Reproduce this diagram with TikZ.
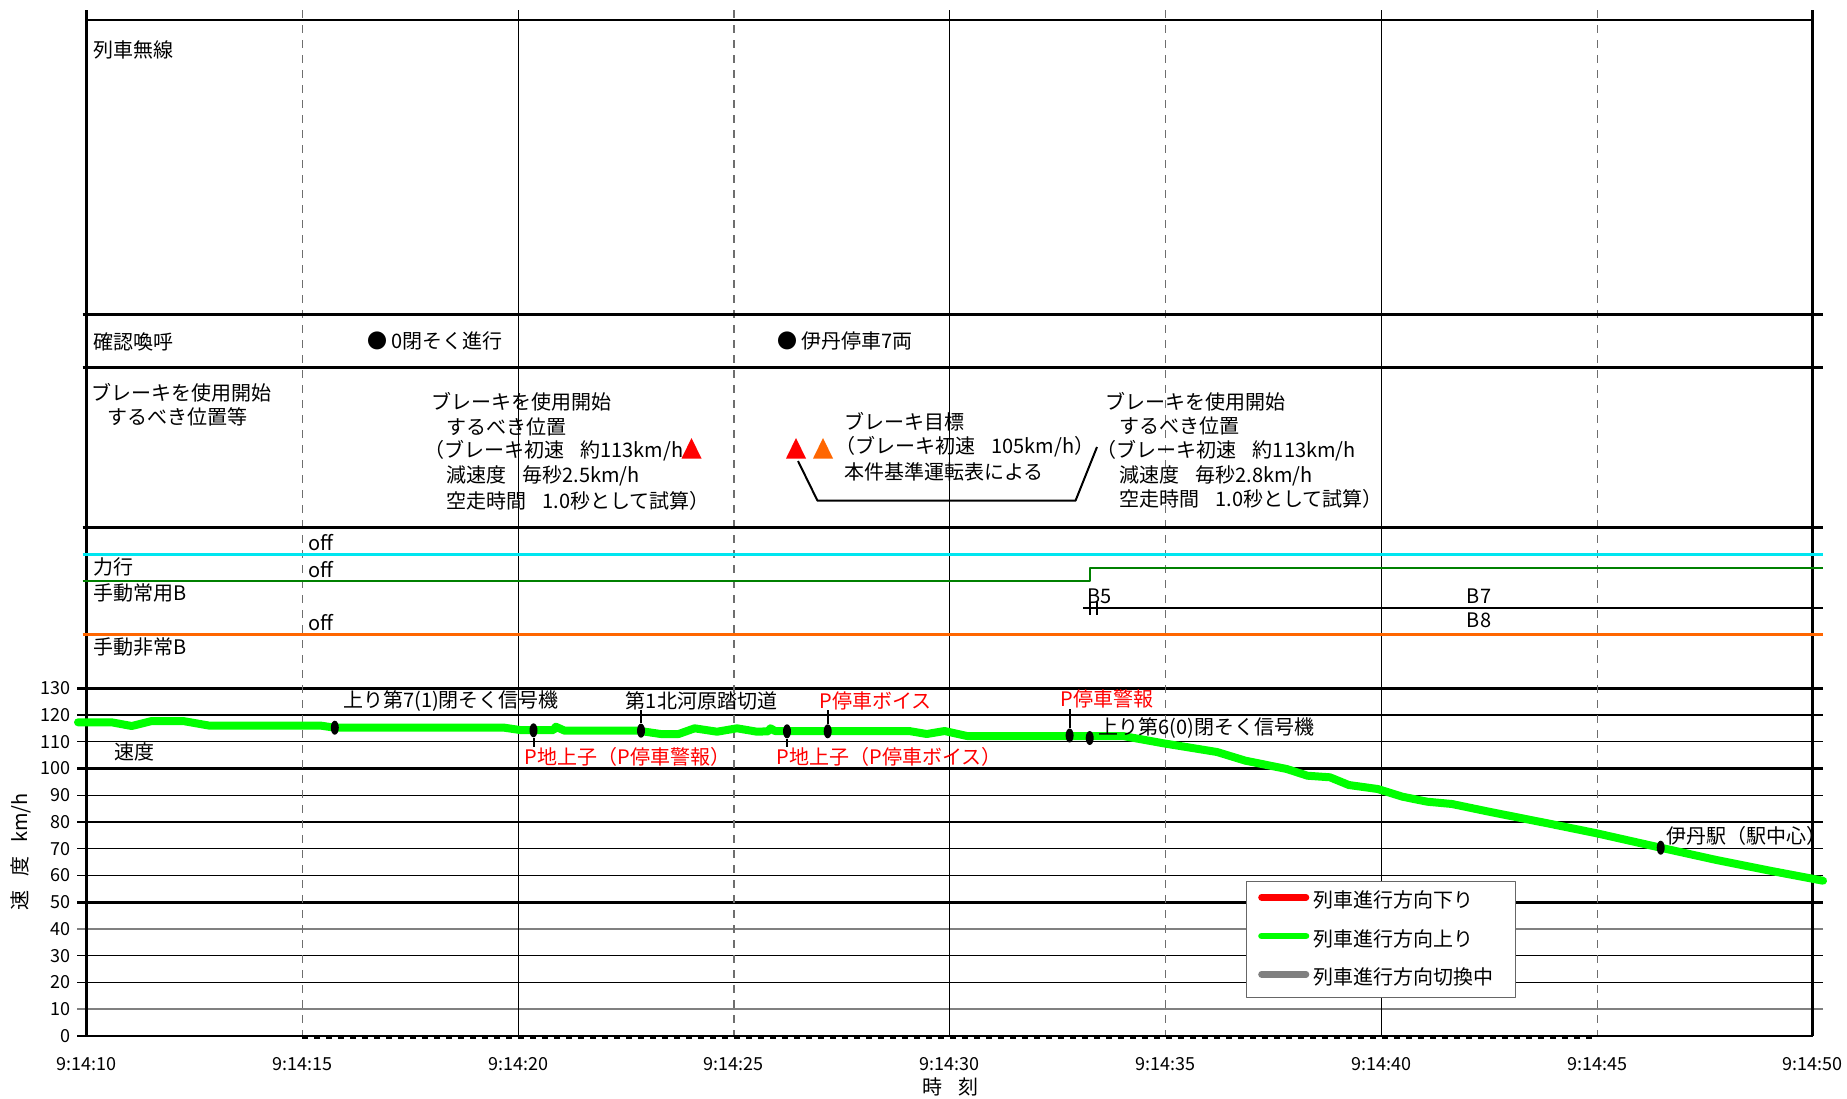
\documentclass[tikz,border=0pt]{standalone}
\usepackage{fontspec}
\setmainfont{Noto Sans CJK JP}
\usetikzlibrary{shapes.geometric}
\definecolor{spdgreen}{RGB}{0,255,0}
\definecolor{cyanline}{RGB}{0,230,240}
\definecolor{dkgreen}{RGB}{0,128,0}
\definecolor{orangeline}{RGB}{255,102,0}
\definecolor{gridgray}{RGB}{110,110,110}
\definecolor{trired}{RGB}{255,0,0}
\definecolor{triorange}{RGB}{255,102,0}
\newcommand{\zsp}{\hspace{8pt}}
\begin{document}
\begin{tikzpicture}[x=0.5pt,y=-0.5pt,line join=round,
  lbl/.style={anchor=west,inner sep=0pt,font=\fontsize{10pt}{12pt}\selectfont},
  redlbl/.style={lbl,text=red},
  num/.style={inner sep=0pt,font=\fontsize{9pt}{11pt}\selectfont},
  thickln/.style={line width=1.3pt},
  thinln/.style={line width=0.6pt},
  grayln/.style={line width=0.9pt,gray},
  dashln/.style={line width=0.6pt,gridgray,dash pattern=on 4pt off 3.5pt},
  mk/.style={ellipse,fill=black,inner sep=0pt,minimum width=4pt,minimum height=7pt},
  conn/.style={line width=1pt},
  sigline/.style={line width=1.1pt}]
\useasboundingbox (0,0) rectangle (1847,1098);

% ---------- speed grid ----------
\foreach \v in {130,100,50} \draw[thickln] (77,{1036-2.675*\v}) -- (1823,{1036-2.675*\v});
\foreach \v in {120,110,90,80,70,60,30,20} \draw[thinln] (77,{1036-2.675*\v}) -- (1823,{1036-2.675*\v});
\foreach \v in {40,10} \draw[grayln] (77,{1036-2.675*\v}) -- (1823,{1036-2.675*\v});
\foreach \v in {0,10,...,130} \node[num,anchor=east] (yl\v) at (70.5,{1036-2.675*\v}) {\v};

% ---------- vertical grid ----------
\foreach \t in {20,30,40} \draw[thinln] ({86.5+43.16*(\t-10)},10) -- ({86.5+43.16*(\t-10)},1036);
\foreach \t in {15,25,35,45} \draw[dashln] ({86.5+43.16*(\t-10)},10) -- ({86.5+43.16*(\t-10)},1036);
\foreach \t/\lab in {10/9:14:10,15/9:14:15,20/9:14:20,25/9:14:25,30/9:14:30,35/9:14:35,40/9:14:40,45/9:14:45,50/9:14:50}
  \node[num] (tl\t) at ({86.5+43.16*(\t-10)},1064) {\lab};

% ---------- frame and section lines ----------
\draw[thickln] (86.5,10) -- (86.5,1036);
\draw[thickln] (1812.5,10) -- (1812.5,1036);
\draw[thickln] (86.5,20) -- (1812.5,20);
\foreach \yy in {314.5,367.5,527.7} \draw[thickln] (82.6,\yy) -- (1823,\yy);
\draw[thickln] (77,1036) -- (1812.5,1036);
\draw[line width=1pt,dash pattern=on 3pt off 3pt] (302.3,1038) -- (1597,1038);

% ---------- signal lines ----------
\draw[cyanline,sigline] (82.6,554.5) -- (1823,554.5);
\draw[dkgreen,sigline] (82.6,581) -- (1089.7,581) -- (1089.7,567.7) -- (1823,567.7);
\draw[line width=1.2pt] (1083,607.7) -- (1823,607.7);
\draw[line width=1pt] (1089.7,602) -- (1089.7,615) (1097,602) -- (1097,615);
\draw[orangeline,sigline] (82.6,634.5) -- (1823,634.5);

% ---------- left labels ----------
\node[lbl] (h1) at (93,50) {列車無線};
\node[lbl] (h2) at (93,341.7) {確認喚呼};
\node[lbl] (h3a) at (91.5,393) {ブレーキを使用開始};
\node[lbl] (h3b) at (107,417) {するべき位置等};
\node[lbl] (h4) at (93,566.7) {力行};
\node[lbl] (h5) at (93,593) {手動常用B};
\node[lbl] (h6) at (93,646.7) {手動非常B};
\node[lbl] (off1) at (308,542.7) {off};
\node[lbl] (off2) at (308,569.3) {off};
\node[lbl] (off3) at (308,622.7) {off};
\node[lbl] (b5) at (1086.6,596) {B5};
\node[lbl] (b7) at (1466.5,596) {B7};
\node[lbl] (b8) at (1466.5,620) {B8};

% ---------- call-outs ----------
\node[lbl] (c1) at (367,341) {● 0閉そく進行};
\node[lbl] (c2) at (777,340.5) {● 伊丹停車7両};

% ---------- brake blocks ----------
\node[lbl] (a1) at (431,402) {ブレーキを使用開始};
\node[lbl] (a2) at (446,426.5) {するべき位置};
\node[lbl] (a3) at (424,451.2) {（ブレーキ初速\zsp 約113km/h};
\node[lbl] (a4) at (446,476) {減速度\zsp 毎秒2.5km/h};
\node[lbl] (a5) at (446,500.5) {空走時間\zsp 1.0秒として試算）};

\node[lbl] (d1) at (844,421.7) {ブレーキ目標};
\node[lbl] (d2) at (835,447) {（ブレーキ初速\zsp 105km/h）};
\node[lbl] (d3) at (844,471.7) {本件基準運転表による};

\node[lbl] (e1) at (1105,401.7) {ブレーキを使用開始};
\node[lbl] (e2) at (1119,425.7) {するべき位置};
\node[lbl] (e3) at (1096.5,450.7) {（ブレーキ初速\zsp 約113km/h};
\node[lbl] (e4) at (1119,475.7) {減速度\zsp 毎秒2.8km/h};
\node[lbl] (e5) at (1119,499.3) {空走時間\zsp 1.0秒として試算）};

\fill[trired] (681.5,458.5) -- (701.5,458.5) -- (691.5,438) -- cycle;
\fill[trired] (786,458.5) -- (806,458.5) -- (796,438) -- cycle;
\fill[triorange] (813,458.5) -- (833,458.5) -- (823,438) -- cycle;
\coordinate (br1) at (798,461);
\coordinate (br2) at (1097,447);
\draw[line width=1pt] (br1) -- (817.5,500.7) -- (1075.5,500.7) -- (br2);

% ---------- speed curve ----------
\draw[spdgreen,line width=4pt,line cap=round]
 (78,722.3) -- (111.6,722.3) -- (131.7,726) -- (151.8,721) -- (183,721) -- (209.8,725.7)
 -- (321.4,725.7) -- (334.8,727.7) -- (504.5,727.7) -- (520,730) -- (553.6,730)
 -- (555.8,726.7) -- (564.7,730.7) -- (638.4,730.7) -- (660.7,734) -- (678.6,734)
 -- (694.6,728.3) -- (717,731.7) -- (737,728.3) -- (757,731.7) -- (768,731.3)
 -- (770.5,728.3) -- (775,731) -- (909,731) -- (926.8,734) -- (944.6,731) -- (967,736)
 -- (1123,736) -- (1163.4,743.3) -- (1217,752) -- (1245.5,760.7) -- (1286.8,769)
 -- (1307.4,775.7) -- (1330,777.3) -- (1348.8,785) -- (1377.7,789) -- (1402.5,796.7)
 -- (1427.3,801.7) -- (1452,804) -- (1489,811.7) -- (1551,824) -- (1596.7,833.3)
 -- (1660.7,847.7) -- (1716.5,860) -- (1770,870.7) -- (1823,880.7);
\node[lbl] (spd) at (114,751.7) {速度};

% ---------- markers ----------
\node[mk] (m1) at (334.8,727.7) {};
\node[mk] (m2) at (533.5,730.3) {};
\node[mk] (m3) at (641,730.7) {};
\node[mk] (m4) at (787,731.3) {};
\node[mk] (m5) at (827.7,731.3) {};
\node[mk] (m6) at (1069.6,735.5) {};
\node[mk] (m7) at (1089.7,738) {};
\node[mk] (m8) at (1660.7,847.7) {};

\node[lbl] (l1) at (342.8,700.7) {上り第7(1)閉そく信号機};
\node[redlbl] (l2) at (524.5,756.7) {P地上子（P停車警報）};
\node[lbl] (l3) at (625.5,700.7) {第1北河原踏切道};
\node[redlbl] (l4) at (776.5,757) {P地上子（P停車ボイス）};
\node[redlbl] (l5) at (819,700.7) {P停車ボイス};
\node[redlbl] (l6) at (1060.5,699.3) {P停車警報};
\node[lbl] (l7) at (1098,728.3) {上り第6(0)閉そく信号機};
\node[lbl] (l8) at (1666,835.5) {伊丹駅（駅中心）};

\draw[conn] (m2.south) -- (m2.south |- l2.north);
\draw[conn] (m3.north) -- (m3.north |- l3.south);
\draw[conn] (m4.south) -- (m4.south |- l4.north);
\draw[conn] (m5.north) -- (m5.north |- l5.south);
\draw[conn] (m6.north) -- (m6.north |- l6.south);

% ---------- axis titles ----------
\node[lbl,anchor=center,rotate=90] (ytitle) at (21,852) {速\hspace{7pt}度\hspace{7pt}km/h};
\node[lbl,anchor=center] (xtitle) at (950.5,1087) {時\hspace{8pt}刻};

% ---------- legend ----------
\node[draw=gray!80!black,fill=white,line width=0.7pt,minimum width=134.5pt,minimum height=58pt,inner sep=0pt,anchor=north west] (legend) at (1246,881) {};
\draw[red,line width=3.3pt,line cap=round] (1261.5,897.3) -- (1306,897.3);
\draw[spdgreen,line width=3.3pt,line cap=round] (1261.5,936) -- (1306,936);
\draw[gray,line width=3.3pt,line cap=round] (1261.5,974.3) -- (1306,974.3);
\node[lbl] (lg1) at (1313.5,900) {列車進行方向下り};
\node[lbl] (lg2) at (1313.5,939.3) {列車進行方向上り};
\node[lbl] (lg3) at (1313.5,977.3) {列車進行方向切換中};
\end{tikzpicture}
\end{document}
